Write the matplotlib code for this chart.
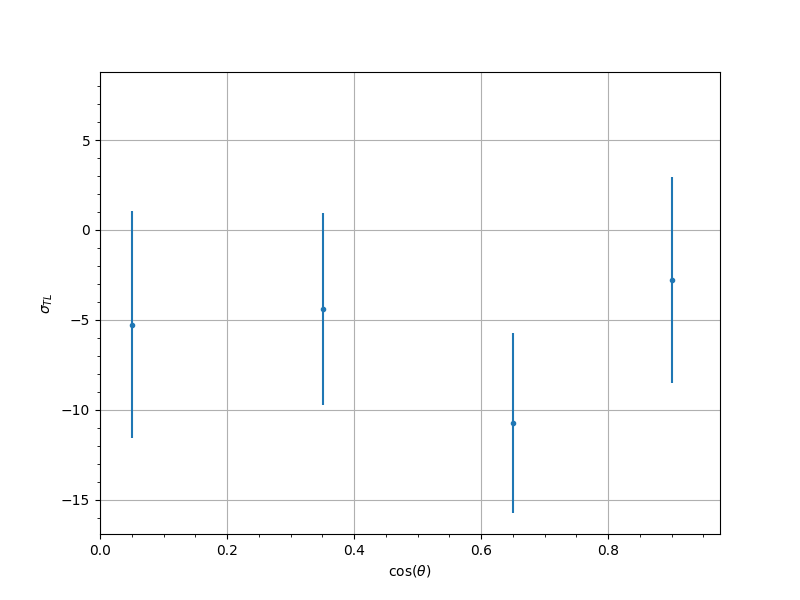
import numpy as np
import matplotlib
matplotlib.use("Agg")
import matplotlib.pyplot as plt

cos_theta = np.array([0.05, 0.351, 0.65, 0.90])
sigma_tl = np.array([-5.27, -4.39, -10.72, -2.78])
sigma_err = np.array([6.30, 5.33, 5.00, 5.72])

if __name__ == "__main__":
    fig, ax = plt.subplots(figsize=(8, 6), dpi=100)
    ax.errorbar(cos_theta, sigma_tl, yerr=sigma_err, fmt=".")
    ax.set_xlim(0, 0.976)
    ax.set_ylim(-16.9, 8.78)
    ax.minorticks_on()
    ax.grid(True)
    ax.set_xlabel(r"cos($\theta$)")
    ax.set_ylabel(r"$\sigma_{TL}$")
    fig.savefig("out.png")
